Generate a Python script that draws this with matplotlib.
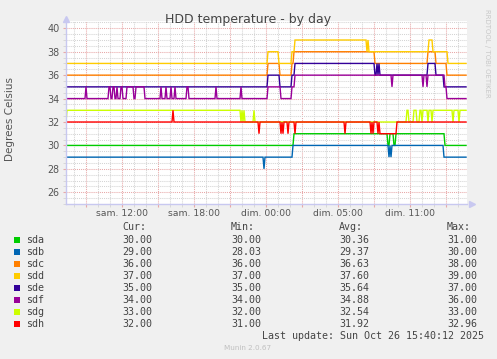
import numpy as np
import matplotlib
matplotlib.use('Agg')
import matplotlib.pyplot as plt
from matplotlib.patches import Rectangle

# time axis in real hours since sat 00:00 (clocks went back 1h sunday night)
start, end = 7 + 20/60, 40 + 40/60
tick_pos = [12, 18, 24, 30, 36]
tick_labels = ['sam. 12:00', 'sam. 18:00', 'dim. 00:00', 'dim. 05:00', 'dim. 11:00']

names = ['sda', 'sdb', 'sdc', 'sdd', 'sde', 'sdf', 'sdg', 'sdh']
colors = ['#00cc00', '#0066b3', '#ff8000', '#ffcc00', '#330099', '#990099', '#ccff00', '#ff0000']
cur = ['30.00', '29.00', '36.00', '37.00', '35.00', '34.00', '33.00', '32.00']
mins = ['30.00', '28.03', '36.00', '37.00', '35.00', '34.00', '32.00', '31.00']
avgs = ['30.36', '29.37', '36.63', '37.60', '35.64', '34.88', '32.54', '31.92']
maxs = ['31.00', '30.00', '38.00', '39.00', '37.00', '36.00', '33.00', '32.96']

# (hour, value) change points
sda = [(7.33, 30), (26.33, 31), (34.17, 30), (34.33, 31), (34.67, 30), (34.83, 31), (38.92, 30)]
sdb = [(7.33, 29), (23.83, 28), (23.92, 29), (26.25, 30), (34.25, 29), (34.33, 30), (34.42, 29),
       (34.5, 30), (38.83, 29)]
sdc = [(7.33, 36), (24.17, 37), (25.17, 36), (26.17, 37), (26.33, 38), (33.08, 37), (37.5, 38),
       (38.17, 37), (39.08, 36)]
sdd = [(7.33, 37), (24.17, 38), (25.08, 37), (26.17, 38), (26.42, 39), (32.42, 38), (32.5, 39),
       (32.58, 38), (37.58, 39), (37.92, 38), (39.17, 37)]
sde = [(7.33, 35), (24.17, 36), (25.17, 35), (26.17, 36), (26.42, 37), (33.08, 36), (33.25, 37),
       (33.33, 36), (33.42, 37), (33.5, 36), (37.5, 37), (38.17, 36), (38.83, 35)]
sdf = [(7.33, 34), (9.0, 35), (9.08, 34), (10.92, 35), (11.08, 34), (11.25, 35), (11.42, 34),
       (11.58, 35), (11.67, 34), (11.92, 35), (12.08, 34), (12.42, 35), (13.0, 34), (13.17, 35),
       (13.92, 34), (15.25, 35), (15.33, 34), (15.67, 35), (15.75, 34), (16.08, 35), (16.17, 34),
       (16.42, 35), (16.5, 34), (17.42, 35), (17.58, 34), (19.83, 35), (19.92, 34), (21.92, 35),
       (22.0, 34), (24.17, 35), (25.25, 34), (26.17, 35), (26.42, 36), (34.5, 35), (34.58, 36),
       (37.08, 35), (37.17, 36), (37.42, 35), (37.5, 36), (38.92, 35), (39.08, 34)]
sdg = [(7.33, 32), (7.42, 33), (21.92, 32), (22.0, 33), (22.08, 32), (22.17, 33), (22.25, 32),
       (23.0, 33), (23.08, 32), (35.75, 33), (35.92, 32), (36.33, 33), (36.58, 32), (36.83, 33),
       (37.0, 32), (37.08, 33), (37.5, 32), (37.58, 33), (37.83, 32), (37.92, 33), (39.58, 32),
       (39.67, 33), (40.08, 32), (40.17, 33)]
sdh = [(7.33, 32), (16.25, 33), (16.33, 32), (23.42, 31), (23.5, 32), (25.25, 31), (25.33, 32),
       (25.42, 31), (25.5, 32), (25.83, 31), (25.92, 32), (26.42, 31), (26.5, 32), (30.58, 31),
       (30.67, 32), (32.75, 31), (32.83, 32), (32.92, 31), (33.0, 32), (33.33, 31), (33.42, 32),
       (33.5, 31), (34.92, 32)]
series = [sda, sdb, sdc, sdd, sde, sdf, sdg, sdh]

# 5 minute samples
n = int(round((end - start) * 12)) + 1
t = start + np.arange(n) / 12.0


def samples(changes):
    v = np.empty(n)
    for h, val in changes:
        v[int(round((h - start) * 12)):] = val
    return v


W, H = 497, 359
fig = plt.figure(figsize=(W / 100, H / 100), dpi=100, facecolor='#f0f0f0')
ax = fig.add_axes([66 / W, 1 - 204 / H, 401 / W, 183 / H])
ax.set_facecolor('white')

for s, c in zip(series, colors):
    ax.plot(t, samples(s), color=c, lw=1.0, solid_joinstyle='miter')

ax.set_xlim(start, start + 401 / 12)
ax.set_ylim(25, 25 + 183 / 11.714)

ax.set_xticks(np.arange(9, 41, 3))
ax.set_xticklabels([tick_labels[tick_pos.index(p)] if p in tick_pos else '' for p in range(9, 41, 3)])
ax.set_xticks(np.arange(8, 41, 1), minor=True)
ax.set_yticks(np.arange(26, 41, 2))
ax.set_yticks(np.arange(25, 40.6, 0.5), minor=True)

mgrid = '#e8a8a8'
ngrid = '#d4d4d4'
axis_c = '#c8c8f0'
ax.grid(which='major', color=mgrid, ls=(0, (1, 1)), lw=0.75)
ax.grid(which='minor', color=ngrid, ls=(0, (1, 1)), lw=0.75)
ax.set_axisbelow(True)

ax.tick_params(axis='x', which='major', color=mgrid, length=2, labelsize=6.7, labelcolor='#555555', pad=1.6)
ax.tick_params(axis='x', which='minor', color=ngrid, length=2)
ax.tick_params(axis='y', which='major', color=mgrid, length=2, labelsize=6.9, labelcolor='#555555', pad=2.5)
ax.tick_params(axis='y', which='minor', color=ngrid, length=2)

for side in ['top', 'right']:
    ax.spines[side].set_visible(False)
for side in ['left', 'bottom']:
    ax.spines[side].set_color(axis_c)
    ax.spines[side].set_linewidth(1)
ax.plot([1.012], [0], marker='>', ms=5, color=axis_c, transform=ax.transAxes, clip_on=False)
ax.plot([0], [1.012], marker='^', ms=5, color=axis_c, transform=ax.transAxes, clip_on=False)

fig.text(248 / W, 1 - 19.5 / H, 'HDD temperature - by day', ha='center', va='center',
         fontsize=9, color='#444444')
fig.text(10 / W, 1 - 119 / H, 'Degrees Celsius', rotation=90, ha='center', va='center',
         fontsize=7.5, color='#555555')
fig.text(487 / W, 1 - 53 / H, 'RRDTOOL / TOBI OETIKER', rotation=270, ha='center', va='center',
         fontsize=5, color='#c8c8c8')

mono = dict(family='DejaVu Sans Mono', fontsize=7.2, color='#444444', va='center', ha='left')
cols = [122, 231, 339, 447]
for x, h in zip(cols, ['Cur:', 'Min:', 'Avg:', 'Max:']):
    fig.text(x / W, 1 - 227.5 / H, h, **mono)
for i, name in enumerate(names):
    y = 239.7 + i * 12
    fig.add_artist(Rectangle((14 / W, 1 - (y + 3) / H), 6 / W, 6 / H, transform=fig.transFigure,
                             facecolor=colors[i], edgecolor='none'))
    fig.text(26 / W, 1 - y / H, name, **mono)
    for x, v in zip(cols, [cur[i], mins[i], avgs[i], maxs[i]]):
        fig.text(x / W, 1 - y / H, v, **mono)
fig.text(261.7 / W, 1 - 335.7 / H, 'Last update: Sun Oct 26 15:40:12 2025', **mono)
fig.text(248 / W, 1 - 347.7 / H, 'Munin 2.0.67', ha='center', va='center', fontsize=5.2, color='#c0c0c0')

fig.savefig('out.png', dpi=100, facecolor=fig.get_facecolor())
